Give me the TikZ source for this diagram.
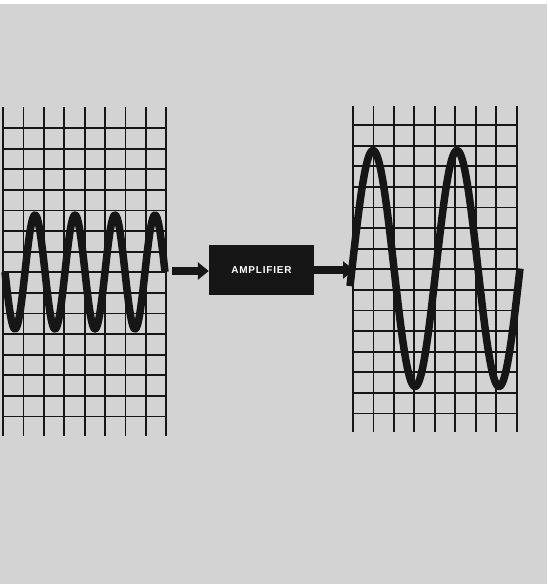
\documentclass[tikz,border=0pt]{standalone}
\usepackage{fontspec}
\usetikzlibrary{arrows.meta}
\newfontfamily\ampfont[LetterSpace=8]{Liberation Sans}
\definecolor{paper}{RGB}{211,211,211}
\definecolor{ink}{RGB}{22,22,22}
\tikzset{
  gridline/.style={draw=ink, line width=1.8pt},
  wave/.style={draw=ink, line width=7.5pt, line join=round},
  ampbox/.style={fill=ink, draw=none, minimum width=105pt, minimum height=50pt, inner sep=0pt,
    text=white, font=\ampfont\bfseries\fontsize{10}{11}\selectfont},
  fatarrow/.style={draw=ink, line width=7.5pt, -{Triangle[length=11pt,width=17pt]}}
}
\begin{document}
\begin{tikzpicture}[x=1pt,y=-1pt]
\useasboundingbox (0,0) rectangle (547,584);
\fill[paper] (0,0) rectangle (547,584);
\fill[white] (0,0) rectangle (547,4);
% left grid
\foreach \i in {0,...,8} {
  \draw[gridline] ({3+20.4*\i},107) -- ({3+20.4*\i},436);
}
\foreach \j in {0,...,14} {
  \draw[gridline] (2,{128+20.6*\j}) -- (167,{128+20.6*\j});
}
% right grid
\foreach \i in {0,...,8} {
  \draw[gridline] ({353+20.45*\i},106) -- ({353+20.45*\i},432);
}
\foreach \j in {0,...,14} {
  \draw[gridline] (352,{125+20.6*\j}) -- (518,{125+20.6*\j});
}
% waves
\draw[wave] plot[domain=5:165, samples=240, smooth] (\x, {272+57*sin(9*(\x-5))});
\draw[wave] plot[domain=350:520, samples=240, smooth] (\x, {268.5-118*sin(4.2857*(\x-352))});
% amplifier
\node[ampbox] (amp) at (261.5,270) {AMPLIFIER};
\coordinate (lout) at (172,271);
\coordinate (rin) at (354,270);
\draw[fatarrow] (lout) -- (amp.west |- lout);
\draw[fatarrow] (amp.east |- rin) -- (rin);
\end{tikzpicture}
\end{document}
